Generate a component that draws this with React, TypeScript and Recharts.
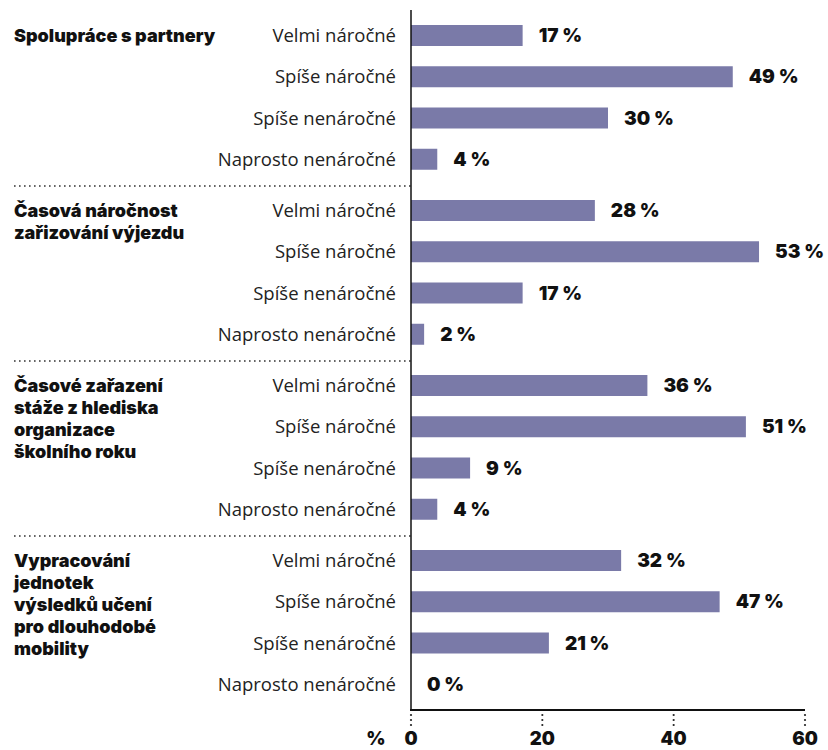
import { BarChart, Bar, XAxis, YAxis, LabelList } from 'recharts'

const levels = ['Velmi náročné', 'Spíše náročné', 'Spíše nenáročné', 'Naprosto nenáročné']

const groupTitles = [
  ['Spolupráce s partnery'],
  ['Časová náročnost', 'zařizování výjezdu'],
  ['Časové zařazení', 'stáže z hlediska', 'organizace', 'školního roku'],
  ['Vypracování', 'jednotek', 'výsledků učení', 'pro dlouhodobé', 'mobility'],
]

const spoluprace = [17, 49, 30, 4]
const casovaNarocnost = [28, 53, 17, 2]
const casoveZarazeni = [36, 51, 9, 4]
const vypracovani = [32, 47, 21, 0]

const xTicks = [0, 20, 40, 60]

const groupValues = [spoluprace, casovaNarocnost, casoveZarazeni, vypracovani]

const BAR = '#7a7aa8'
const FONT = '"Open Sans", sans-serif'
const BOLD = 'Inter, Lato, sans-serif'

const XTick = ({ x, y, payload }: any) => (
  <g>
    <circle cx={x} cy={y + 5} r={1.1} fill="#222" />
    <circle cx={x} cy={y + 10} r={1.1} fill="#222" />
    <circle cx={x} cy={y + 15} r={1.1} fill="#222" />
    <text x={x} y={y + 35} textAnchor="middle" fontFamily={BOLD} fontWeight={900} fontSize={18.5} fill="#111">
      {payload.value}
    </text>
    {payload.value === 0 && (
      <text x={x - 35} y={y + 35} textAnchor="middle" fontFamily={BOLD} fontWeight={900} fontSize={18.5} fill="#111">
        %
      </text>
    )}
  </g>
)

function Group({ idx }: { idx: number }) {
  const first = idx === 0
  const last = idx === 3
  const data = levels.map((l, i) => ({ label: l, value: groupValues[idx][i] }))
  const top = first ? 10 : 0
  const height = top + 175 + (last ? 40 : 0)
  return (
    <div style={{ position: 'relative', width: 828, height }}>
      <div
        style={{
          position: 'absolute',
          left: 14,
          top: top + 26 - 11,
          fontFamily: BOLD,
          fontWeight: 900,
          fontSize: 18,
          lineHeight: '22px',
          color: '#111',
        }}
      >
        {groupTitles[idx].map(t => (
          <div key={t}>{t}</div>
        ))}
      </div>
      {!first && (
        <svg style={{ position: 'absolute', left: 0, top: 0 }} width={420} height={4}>
          <line x1={14} y1={1} x2={411} y2={1} stroke="#333" strokeWidth={1.6} strokeDasharray="1.6 3.4" />
        </svg>
      )}
      <BarChart
        width={828}
        height={height}
        data={data}
        layout="vertical"
        margin={{ top, right: 23, bottom: 0, left: 0 }}
        style={{ position: 'absolute', left: 0, top: 0 }}
      >
        <XAxis
          type="number"
          domain={[0, 60]}
          ticks={xTicks}
          hide={!last}
          height={40}
          stroke="#111"
          strokeWidth={1.5}
          axisLine={true}
          tickLine={false}
          tickSize={0}
          tickMargin={0}
          tick={<XTick />}
          interval={0}
        />
        <YAxis
          type="category"
          dataKey="label"
          width={411}
          padding={{ top: 5, bottom: 5 }}
          axisLine={{ stroke: '#111', strokeWidth: 1.5 }}
          tickLine={false}
          tickSize={0}
          tickMargin={15}
          tick={{ fontFamily: FONT, fontSize: 18.5, fill: '#222' }}
          interval={0}
        />
        <Bar dataKey="value" fill={BAR} barSize={21} minPointSize={0.01} isAnimationActive={false}>
          <LabelList
            dataKey="value"
            position="right"
            offset={16}
            formatter={(v: any) => `${v} %`}
            style={{ fontFamily: BOLD, fontWeight: 900, fontSize: 19, fill: '#111' }}
          />
        </Bar>
      </BarChart>
      {last && (
        <div
          style={{
            position: 'absolute',
            left: 410,
            top: 174,
            width: 395,
            height: 2,
            background: '#111',
            zIndex: 5,
          }}
        />
      )}
    </div>
  )
}

export default function App() {
  return (
    <div style={{ position: 'absolute', left: 0, top: 0, width: 828, height: 750, background: '#fff' }}>
      {groupTitles.map((_, i) => (
        <Group key={i} idx={i} />
      ))}
    </div>
  )
}
